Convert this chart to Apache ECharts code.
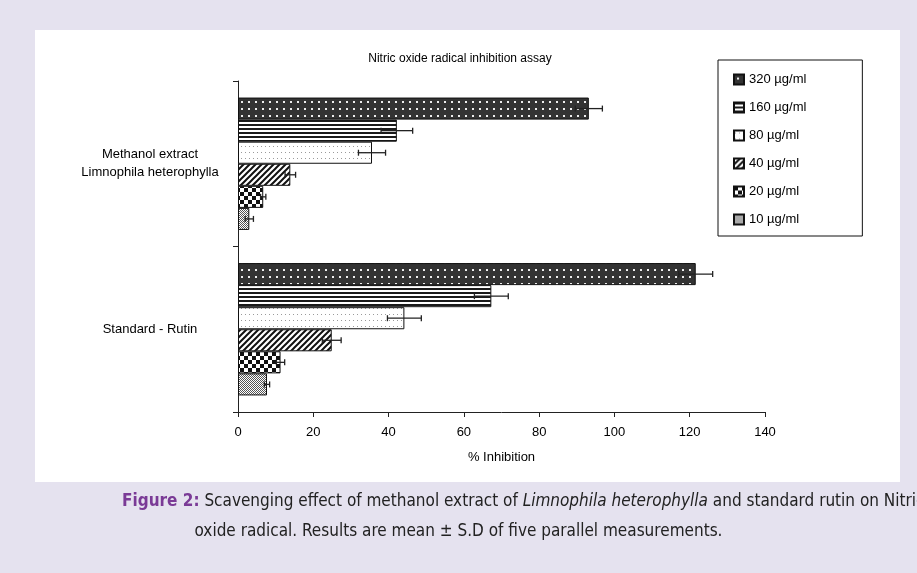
<!DOCTYPE html>
<html>
<head>
<meta charset="utf-8">
<script src="https://cdn.jsdelivr.net/npm/echarts@6/dist/echarts.min.js"></script>
<style>
  html, body { margin: 0; padding: 0; background: #e5e2ef; }
  #chart { width: 917px; height: 573px; }
</style>
</head>
<body>
<div id="chart"></div>
<script>
// categories bottom -> top (category axis grows upward)
const categories = ['Standard - Rutin', 'Methanol extract\nLimnophila heterophylla'];
// concentrations, lowest bar first
const concentrations = ['10 µg/ml', '20 µg/ml', '40 µg/ml', '80 µg/ml', '160 µg/ml', '320 µg/ml'];
const rutinMean = [7.7, 11.3, 24.9, 44.2, 67.3, 121.6];
const rutinSD = [0.7, 1.1, 2.5, 4.5, 4.5, 4.5];
const extractMean = [3.0, 6.7, 13.9, 35.6, 42.2, 93.2];
const extractSD = [1.1, 0.7, 1.4, 3.6, 4.2, 3.6];
const xTicks = { min: 0, max: 140, interval: 20 };

function makePattern(w, h, draw) {
  const c = document.createElement('canvas');
  c.width = w; c.height = h;
  const ctx = c.getContext('2d');
  draw(ctx);
  return { image: c, repeat: 'repeat' };
}

const patterns = [
  // 10: fine dither
  makePattern(2, 2, ctx => {
    ctx.fillStyle = '#fff'; ctx.fillRect(0, 0, 2, 2);
    ctx.fillStyle = '#555'; ctx.fillRect(0, 0, 1, 1); ctx.fillRect(1, 1, 1, 1);
  }),
  // 20: checkerboard
  makePattern(8, 8, ctx => {
    ctx.fillStyle = '#fff'; ctx.fillRect(0, 0, 8, 8);
    ctx.fillStyle = '#111'; ctx.fillRect(0, 0, 4, 4); ctx.fillRect(4, 4, 4, 4);
  }),
  // 40: diagonal hatch
  makePattern(6, 6, ctx => {
    ctx.fillStyle = '#fff'; ctx.fillRect(0, 0, 6, 6);
    ctx.strokeStyle = '#111'; ctx.lineWidth = 2;
    ctx.beginPath();
    ctx.moveTo(-1, 7); ctx.lineTo(7, -1);
    ctx.moveTo(-4, 4); ctx.lineTo(4, -4);
    ctx.moveTo(2, 10); ctx.lineTo(10, 2);
    ctx.stroke();
  }),
  // 80: sparse light dots
  makePattern(4, 6, ctx => {
    ctx.fillStyle = '#fff'; ctx.fillRect(0, 0, 4, 6);
    ctx.fillStyle = '#9a9a9a'; ctx.fillRect(1, 2, 1, 1);
  }),
  // 160: horizontal stripes
  makePattern(4, 4, ctx => {
    ctx.fillStyle = '#fff'; ctx.fillRect(0, 0, 4, 4);
    ctx.fillStyle = '#1a1a1a'; ctx.fillRect(0, 0, 4, 2);
  }),
  // 320: dark with white dots
  makePattern(7, 7, ctx => {
    ctx.fillStyle = '#333'; ctx.fillRect(0, 0, 7, 7);
    ctx.fillStyle = '#eee'; ctx.fillRect(3, 3, 2, 2);
  })
];

// first bar series is drawn on top of the band, so go from 320 down to 10
const barSeries = [];
for (let k = concentrations.length - 1; k >= 0; k--) {
  barSeries.push({
    name: concentrations[k],
    type: 'bar',
    barGap: '0%',
    barCategoryGap: '20%',
    data: [rutinMean[k], extractMean[k]],
    itemStyle: { color: patterns[k], borderColor: '#111', borderWidth: 1 }
  });
}

const errData = [];
concentrations.forEach((name, k) => {
  errData.push([rutinMean[k], 0, rutinSD[k], k]);
  errData.push([extractMean[k], 1, extractSD[k], k]);
});

const errSeries = {
  type: 'custom',
  z: 5,
  data: errData,
  encode: { x: 0, y: 1 },
  renderItem: function (params, api) {
    const v = api.value(0), c = api.value(1), sd = api.value(2), k = api.value(3);
    const ctr = api.coord([v, c]);
    const bw = api.size([0, 1])[1] * 0.8 / concentrations.length;
    const y = ctr[1] + (2.5 - k) * bw;
    const lo = api.coord([v - sd, c])[0];
    const hi = api.coord([v + sd, c])[0];
    const st = { stroke: '#222', lineWidth: 1.3 };
    return {
      type: 'group',
      children: [
        { type: 'line', shape: { x1: lo, y1: y, x2: hi, y2: y }, style: st },
        { type: 'line', shape: { x1: lo, y1: y - 3, x2: lo, y2: y + 3 }, style: st },
        { type: 'line', shape: { x1: hi, y1: y - 3, x2: hi, y2: y + 3 }, style: st }
      ]
    };
  }
};

const capFam = '"Liberation Sans Narrow", "DejaVu Sans Condensed", sans-serif';
const capSize = 17;

const chart = echarts.init(document.getElementById('chart'));
chart.setOption({
  backgroundColor: '#e5e2ef',
  animation: false,
  textStyle: { fontFamily: 'Liberation Sans, Arial, sans-serif' },
  title: {
    text: 'Nitric oxide radical inhibition assay',
    left: 455, top: 48, textAlign: 'center',
    textStyle: { fontSize: 12, fontWeight: 'normal', color: '#000' }
  },
  graphic: [
    { type: 'rect', z: -10, shape: { x: 35, y: 30, width: 865, height: 452 }, style: { fill: '#fff' } },
    {
      type: 'text', left: 122, top: 493, z: 10,
      style: {
        text: '{b|Figure 2:} Scavenging effect of methanol extract of {i|Limnophila heterophylla} and standard rutin on Nitric',
        font: capSize + 'px ' + capFam,
        fill: '#222',
        rich: {
          b: { fontWeight: 'bold', fill: '#7a3a96', fontSize: capSize, fontFamily: capFam },
          i: { fontStyle: 'italic', fill: '#222', fontSize: capSize, fontFamily: capFam }
        }
      }
    },
    {
      type: 'text', left: 'center', top: 523, z: 10,
      style: {
        text: 'oxide radical. Results are mean ± S.D of five parallel measurements.',
        font: capSize + 'px ' + capFam,
        fill: '#222'
      }
    }
  ],
  legend: {
    orient: 'vertical',
    left: 718, top: 60,
    data: concentrations.slice().reverse(),
    icon: 'rect',
    itemWidth: 10, itemHeight: 10, itemGap: 15,
    padding: [13, 56, 10, 15],
    borderColor: '#111', borderWidth: 1,
    backgroundColor: '#fff',
    textStyle: { fontSize: 13, color: '#000' }
  },
  grid: { left: 238, right: 152, top: 81, bottom: 161 },
  xAxis: {
    type: 'value',
    min: xTicks.min, max: xTicks.max, interval: xTicks.interval,
    name: '% Inhibition',
    nameLocation: 'middle', nameGap: 39,
    nameTextStyle: { fontSize: 13, color: '#000' },
    axisLine: { show: true, lineStyle: { color: '#222' } },
    axisTick: { show: true, length: 5, lineStyle: { color: '#222' } },
    axisLabel: { fontSize: 13, color: '#000', margin: 14 },
    splitLine: { show: false }
  },
  yAxis: {
    type: 'category',
    data: categories,
    axisLine: { show: true, lineStyle: { color: '#222' } },
    axisTick: { show: true, length: 5, lineStyle: { color: '#222' } },
    axisLabel: { fontSize: 13, color: '#000', align: 'center', margin: 88, lineHeight: 18 }
  },
  series: barSeries.concat([errSeries])
});
</script>
</body>
</html>
